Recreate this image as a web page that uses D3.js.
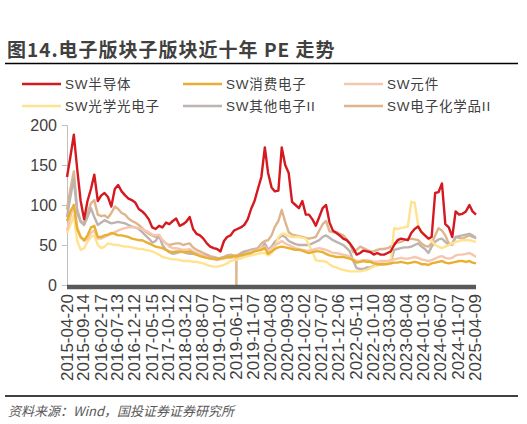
<!DOCTYPE html>
<html>

<head>
    <meta charset="utf-8">
    <script src="https://d3js.org/d3.v7.min.js"></script>
    <style>
        body {
            margin: 0;
            background-color: #ffffff;
            font-family: 'Liberation Sans', 'Noto Sans CJK SC', sans-serif;
        }
    </style>
    <title>电子版块子版块近十年 PE 走势</title>
</head>

<body>
    <svg id="chart" width="527" height="424"></svg>

    <script>
        // monthly PE readings, one per month from 2015-04-20
        var firstMonth = "2015-04-20";

        var semiPE = [135, 160, 188, 145, 105, 82, 105, 120, 138, 105,
            112, 115, 110, 98, 120, 125, 117, 112, 108, 106,
            103, 95, 92, 88, 82, 72, 70, 74, 72, 78,
            76, 80, 83, 74, 76, 79, 85, 70, 64, 62,
            58, 52, 48, 46, 45, 42, 55, 60, 62, 68,
            70, 72, 75, 82, 95, 105, 120, 135, 172, 140,
            122, 117, 118, 172, 150, 140, 104, 100, 96, 105,
            88, 88, 82, 74, 85, 96, 100, 78, 68, 65,
            62, 58, 56, 52, 46, 38, 40, 43, 42, 41,
            38, 40, 38, 38, 40, 42, 50, 56, 58, 57,
            56, 65, 70, 73, 66, 62, 58, 60, 115, 116,
            127, 76, 72, 60, 92, 88, 89, 92, 100, 92, 88];

        var consumerPE = [80, 92, 100, 70, 60, 56, 62, 72, 74, 60,
            60, 62, 63, 65, 64, 62, 62, 61, 60, 58,
            57, 56, 56, 54, 52, 50, 48, 47, 46, 44,
            42, 41, 42, 42, 41, 41, 42, 40, 38, 36,
            35, 34, 33, 33, 32, 33, 34, 35, 35, 36,
            36, 37, 38, 39, 40, 42, 43, 44, 46, 39,
            42, 45, 47, 48, 47, 46, 45, 44, 44, 43,
            41, 40, 41, 42, 42, 41, 39, 37, 36, 35,
            35, 35, 34, 33, 31, 28, 29, 30, 29, 29,
            27, 26, 26, 26, 26, 27, 28, 28, 29, 28,
            27, 28, 29, 28, 26, 26, 25, 27, 28, 29,
            30, 28, 27, 28, 29, 30, 30, 29, 30, 28, 27];

        var componentPE = [68, 85, 100, 72, 60, 55, 58, 65, 68, 58,
            58, 60, 62, 64, 66, 68, 70, 71, 72, 72,
            72, 71, 70, 68, 66, 63, 62, 63, 56, 52,
            48, 46, 46, 45, 44, 44, 45, 42, 40, 38,
            37, 35, 33, 32, 31, 32, 33, 34, 34, 35,
            35, 36, 38, 40, 42, 43, 44, 46, 48, 42,
            46, 50, 52, 55, 52, 50, 48, 46, 45, 44,
            43, 43, 44, 45, 46, 45, 44, 42, 40, 40,
            39, 38, 37, 35, 32, 30, 30, 31, 31, 30,
            29, 29, 30, 30, 30, 31, 32, 33, 34, 33,
            33, 34, 35, 34, 32, 31, 30, 31, 33, 35,
            36, 34, 33, 34, 37, 38, 38, 39, 40, 38, 35];

        var opticalPE = [65, 75, 87, 55, 44, 46, 54, 60, 62, 50,
            46, 48, 52, 51, 50, 50, 49, 48, 48, 47,
            46, 45, 45, 44, 43, 42, 40, 38, 35, 34,
            33, 32, 32, 31, 30, 30, 30, 29, 29, 28,
            27, 25, 24, 23, 23, 24, 25, 27, 30, 31,
            32, 33, 35, 36, 37, 38, 39, 40, 40, 37,
            40, 46, 60, 64, 64, 61, 60, 60, 60, 59,
            58, 50, 42, 31, 30, 30, 29, 26, 23, 22,
            20, 19, 18, 17, 17, 17, 17, 18, 19, 21,
            23, 25, 27, 29, 29, 29, 71, 70, 71, 72,
            73, 104, 103, 75, 67, 62, 58, 55, 50, 48,
            46, 48, 50, 52, 54, 55, 56, 56, 56, 55, 54];

        var otherPE = [85, 110, 133, 90, 79, 75, 85, 96, 85, 75,
            78, 81, 79, 77, 78, 79, 78, 77, 75, 73,
            72, 70, 66, 62, 58, 53, 55, 62, 50, 44,
            41, 39, 40, 41, 42, 40, 39, 39, 38, 38,
            37, 36, 34, 33, 33, 34, 35, 35, 35, 35,
            35, 38, 41, 42, 44, 44, 44, 46, 52, 44,
            48, 54, 58, 62, 60, 55, 53, 51, 50, 50,
            50, 50, 52, 54, 56, 60, 62, 59, 56, 54,
            52, 50, 46, 42, 30, 21, 20, 20, 22, 22,
            24, 25, 26, 26, 27, 27, 44, 45, 46, 47,
            47, 48, 50, 52, 48, 45, 40, 48, 54, 57,
            58, 54, 50, 52, 60, 61, 62, 63, 64, 62, 58];

        var chemPE = [94, 120, 142, 95, 80, 77, 90, 102, 106, 88,
            86, 87, 84, 90, 98, 95, 90, 88, 83, 80,
            78, 75, 71, 67, 64, 62, 60, 59, 56, 52,
            50, 51, 52, 52, 50, 51, 52, 47, 44, 42,
            40, 38, 36, 35, 34, 33, 35, 37, 38, 37,
            37, 40, 42, 43, 44, 45, 46, 52, 55, 56,
            62, 73, 80, 94, 79, 66, 63, 62, 61, 60,
            59, 58, 59, 60, 68, 76, 80, 67, 66, 66,
            64, 62, 57, 52, 41, 44, 48, 46, 44, 42,
            42, 44, 45, 45, 46, 48, 52, 53, 54, 56,
            57, 58, 57, 56, 52, 49, 48, 52, 62, 71,
            68, 62, 52, 50, 60, 59, 58, 60, 62, 60, 60];

        // one-day drop to zero in the chemicals series
        var chemDipDates = ["2019-06-10", "2019-06-11", "2019-06-12"];
        var chemDipValues = [37, 0, 37];

        var seriesNames = ["SW半导体", "SW消费电子", "SW元件", "SW光学光电子", "SW其他电子II", "SW电子化学品II"];
        var seriesColors = ["#D41920", "#E8B030", "#F6C6AF", "#FFE38F", "#BDB3B0", "#DEB58C"];

        var tickLabels = ["2015-04-20", "2015-09-14", "2016-02-17", "2016-07-13", "2016-12-12",
            "2017-05-15", "2017-10-12", "2018-03-12", "2018-08-07", "2019-01-07",
            "2019-06-11", "2019-11-07", "2020-04-08", "2020-09-03", "2021-02-02",
            "2021-07-07", "2021-12-06", "2022-05-11", "2022-10-10", "2023-03-08",
            "2023-08-04", "2024-01-03", "2024-06-07", "2024-11-07", "2025-04-09"];
        var yTicks = [0, 50, 100, 150, 200];

        var parseDate = d3.timeParse("%Y-%m-%d");
        var start = parseDate(firstMonth);
        var months = d3.range(semiPE.length).map(function (i) {
            return d3.timeMonth.offset(start, i);
        });

        function toPoints(values) {
            return values.map(function (v, i) {
                return { date: months[i], value: v };
            });
        }

        var chemPoints = toPoints(chemPE);
        chemDipDates.forEach(function (d, i) {
            chemPoints.push({ date: parseDate(d), value: chemDipValues[i] });
        });
        chemPoints.sort(function (a, b) { return a.date - b.date; });

        var allSeries = [
            toPoints(semiPE), toPoints(consumerPE), toPoints(componentPE),
            toPoints(opticalPE), toPoints(otherPE), chemPoints
        ];

        var svg = d3.select("#chart");

        var x = d3.scaleTime()
            .domain([start, months[months.length - 1]])
            .range([67, 476]);
        var y = d3.scaleLinear()
            .domain([0, 200])
            .range([285, 125]);

        // title + rules
        svg.append("text")
            .attr("x", 7)
            .attr("y", 57)
            .style("font-family", "'Noto Sans CJK SC', sans-serif")
            .style("font-weight", "bold")
            .style("font-size", "19px")
            .style("letter-spacing", "1px")
            .style("fill", "#404040")
            .text("图14.电子版块子版块近十年 PE 走势");

        svg.append("line")
            .attr("x1", 5).attr("x2", 518)
            .attr("y1", 63.5).attr("y2", 63.5)
            .style("stroke", "#000")
            .style("stroke-width", "1.5px");

        svg.append("line")
            .attr("x1", 5).attr("x2", 518)
            .attr("y1", 396).attr("y2", 396)
            .style("stroke", "#000")
            .style("stroke-width", "1.5px");

        svg.append("text")
            .attr("x", 8)
            .attr("y", 416)
            .style("font-family", "'Noto Sans CJK SC', sans-serif")
            .style("font-style", "italic")
            .style("font-size", "13px")
            .style("fill", "#595959")
            .text("资料来源：Wind，国投证券证券研究所");

        // legend
        var legendX = [22, 183, 344];
        var legendY = [84, 106];
        var legend = svg.selectAll(".legend")
            .data(seriesNames)
            .enter()
            .append("g")
            .attr("class", "legend")
            .attr("transform", function (d, i) {
                return "translate(" + legendX[i % 3] + "," + legendY[Math.floor(i / 3)] + ")";
            });
        legend.append("line")
            .attr("x1", 0).attr("x2", 39)
            .style("stroke", function (d, i) { return seriesColors[i]; })
            .style("stroke-width", "2.5px");
        legend.append("text")
            .attr("x", 43)
            .attr("dy", "0.35em")
            .style("font-size", "13.5px")
            .style("letter-spacing", "0.8px")
            .style("fill", "#404040")
            .text(function (d) { return d; });

        // y axis
        var yAxis = d3.axisLeft(y)
            .tickValues(yTicks)
            .tickSize(5)
            .tickPadding(5);
        var yg = svg.append("g")
            .attr("transform", "translate(67,0)")
            .call(yAxis);
        yg.selectAll("line,path")
            .style("stroke", "#bfbfbf")
            .style("stroke-width", "1px");
        yg.selectAll("text")
            .style("font-family", "'Liberation Sans', sans-serif")
            .style("font-size", "16px")
            .style("fill", "#404040");

        // lines, red drawn last so it stays on top
        var line = d3.line()
            .x(function (d) { return x(d.date); })
            .y(function (d) { return y(d.value); });

        var order = [5, 4, 3, 2, 1, 0];
        order.forEach(function (k) {
            svg.append("path")
                .datum(allSeries[k])
                .attr("d", line)
                .style("fill", "none")
                .style("stroke", seriesColors[k])
                .style("stroke-width", "2.4px")
                .style("stroke-linejoin", "round");
        });

        // x axis: thick dark bar + rotated dates
        svg.append("line")
            .attr("x1", x(start)).attr("x2", x(months[months.length - 1]))
            .attr("y1", y(0) + 2).attr("y2", y(0) + 2)
            .style("stroke", "#595959")
            .style("stroke-width", "4.5px");

        svg.selectAll(".xlab")
            .data(tickLabels)
            .enter()
            .append("text")
            .attr("class", "xlab")
            .attr("transform", function (d) {
                return "translate(" + x(parseDate(d)) + "," + 294 + ") rotate(-90)";
            })
            .attr("text-anchor", "end")
            .attr("dy", "0.35em")
            .style("font-family", "'Liberation Sans', sans-serif")
            .style("font-size", "17px")
            .style("fill", "#404040")
            .text(function (d) { return d; });
    </script>
</body>

</html>
